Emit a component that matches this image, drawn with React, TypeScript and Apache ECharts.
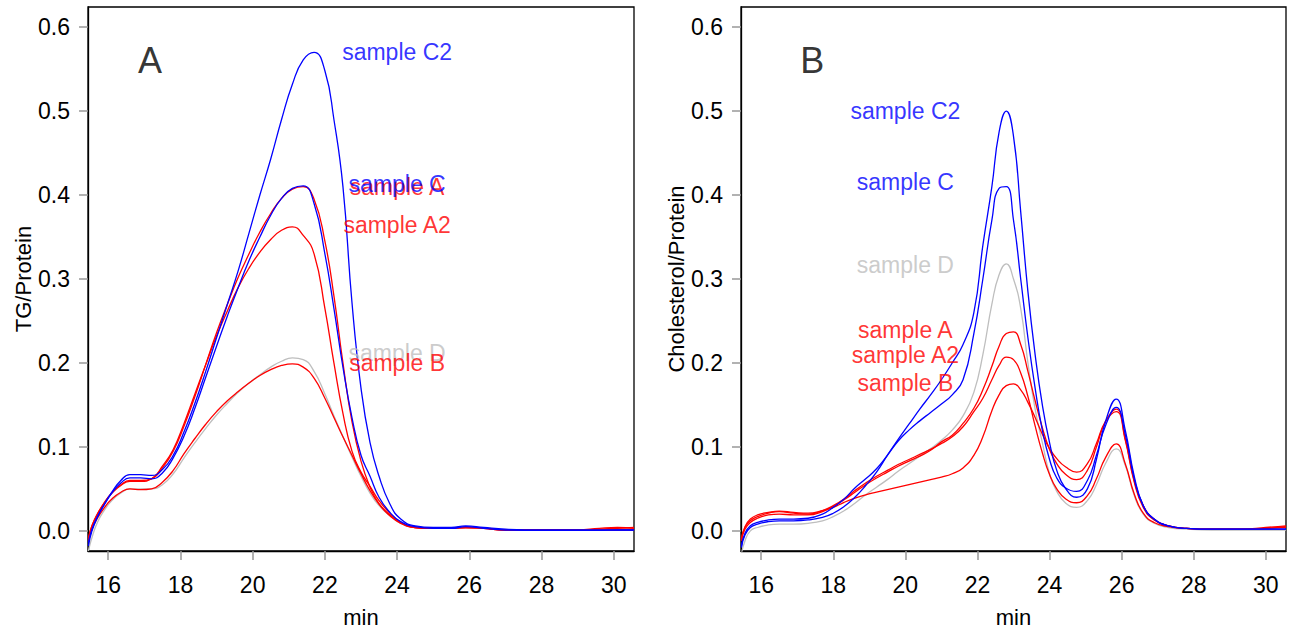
import { useEffect, useRef } from "react";
import * as echarts from "echarts";

// ---------- Panel A: TG/Protein ----------
const tgX = [15.45, 15.55, 15.7, 15.9, 16.1, 16.35, 16.6, 16.9, 17.2, 17.5, 17.8, 18.1, 18.4, 18.7, 19.0, 19.3, 19.6, 19.9, 20.2, 20.5, 20.8, 21.1, 21.4, 21.7, 22.0, 22.25, 22.5, 22.75, 23.0, 23.25, 23.5, 23.8, 24.1, 24.5, 25.0, 25.5, 25.9, 26.4, 27.0, 28.0, 29.0, 29.6, 30.1, 30.56];
const tgD = [-0.024, -0.008, 0.01, 0.025, 0.036, 0.045, 0.05, 0.05, 0.05, 0.055, 0.068, 0.087, 0.105, 0.122, 0.138, 0.152, 0.165, 0.176, 0.186, 0.195, 0.202, 0.206, 0.204, 0.19, 0.163, 0.137, 0.112, 0.088, 0.065, 0.045, 0.03, 0.018, 0.009, 0.004, 0.003, 0.003, 0.004, 0.003, 0.001, 0.0005, 0.0005, 0.0005, 0.0005, 0.0005];
const tgA = [-0.01, 0.006, 0.02, 0.034, 0.045, 0.055, 0.06, 0.06, 0.062, 0.075, 0.095, 0.125, 0.16, 0.198, 0.236, 0.27, 0.302, 0.33, 0.356, 0.378, 0.396, 0.407, 0.41, 0.395, 0.345, 0.28, 0.2, 0.13, 0.083, 0.052, 0.032, 0.018, 0.009, 0.004, 0.003, 0.003, 0.004, 0.003, 0.001, 0.001, 0.001, 0.002, 0.003, 0.004];
const tgA2 = [-0.008, 0.006, 0.02, 0.034, 0.045, 0.054, 0.059, 0.059, 0.062, 0.077, 0.097, 0.128, 0.163, 0.198, 0.232, 0.262, 0.29, 0.313, 0.332, 0.347, 0.358, 0.362, 0.352, 0.33, 0.265, 0.2, 0.14, 0.095, 0.07, 0.053, 0.036, 0.021, 0.01, 0.004, 0.003, 0.003, 0.004, 0.003, 0.001, 0.001, 0.001, 0.003, 0.004, 0.003];
const tgB = [-0.012, 0.002, 0.015, 0.028, 0.038, 0.046, 0.05, 0.049, 0.05, 0.058, 0.072, 0.092, 0.11, 0.127, 0.142, 0.155, 0.166, 0.176, 0.185, 0.192, 0.197, 0.199, 0.195, 0.182, 0.158, 0.135, 0.112, 0.09, 0.068, 0.048, 0.032, 0.019, 0.01, 0.004, 0.003, 0.003, 0.004, 0.003, 0.001, 0.001, 0.001, 0.001, 0.001, 0.001];
const tgC = [-0.014, 0.002, 0.017, 0.032, 0.045, 0.057, 0.063, 0.063, 0.062, 0.069, 0.087, 0.113, 0.146, 0.183, 0.22, 0.256, 0.29, 0.322, 0.35, 0.376, 0.396, 0.408, 0.411, 0.39, 0.33, 0.265, 0.195, 0.135, 0.09, 0.065, 0.04, 0.022, 0.011, 0.005, 0.003, 0.003, 0.005, 0.003, 0.001, 0.0005, 0.0005, 0.0005, 0.001, 0.001];
const tgC2 = [-0.018, 0.0, 0.016, 0.032, 0.046, 0.06, 0.067, 0.067, 0.066, 0.073, 0.09, 0.118, 0.152, 0.19, 0.23, 0.27, 0.31, 0.355, 0.4, 0.443, 0.49, 0.532, 0.561, 0.57, 0.548, 0.49, 0.41, 0.272, 0.17, 0.105, 0.065, 0.032, 0.014, 0.006, 0.004, 0.004, 0.006, 0.004, 0.002, 0.001, 0.001, 0.001, 0.001, 0.001];
const tgLabelX = 24;
const tgLabelY = [0.2116, 0.41, 0.364, 0.2, 0.413, 0.57];

// ---------- Panel B: Cholesterol/Protein ----------
const chX = [15.45, 15.55, 15.7, 15.9, 16.2, 16.5, 16.9, 17.3, 17.7, 18.0, 18.3, 18.6, 18.9, 19.2, 19.5, 19.8, 20.1, 20.4, 20.7, 21.0, 21.3, 21.6, 21.9, 22.15, 22.4, 22.6, 22.8, 23.0, 23.2, 23.4, 23.6, 23.8, 24.0, 24.2, 24.45, 24.75, 25.05, 25.3, 25.55, 25.85, 26.1, 26.35, 26.6, 26.9, 27.3, 27.8, 28.5, 29.3, 30.0, 30.56];
const chD = [-0.028, -0.012, 0.0, 0.004, 0.007, 0.008, 0.008, 0.009, 0.012, 0.017, 0.024, 0.033, 0.043, 0.052, 0.061, 0.071, 0.08, 0.089, 0.098, 0.108, 0.12, 0.137, 0.165, 0.21, 0.27, 0.305, 0.318, 0.3, 0.265, 0.2, 0.145, 0.105, 0.068, 0.047, 0.033, 0.028, 0.036, 0.055, 0.08, 0.0977, 0.078, 0.042, 0.02, 0.009, 0.004, 0.002, 0.001, 0.001, 0.001, 0.001];
const chA = [-0.012, 0.002, 0.01, 0.015, 0.019, 0.02, 0.019, 0.019, 0.023, 0.029, 0.037, 0.046, 0.055, 0.063, 0.07, 0.077, 0.083, 0.089, 0.096, 0.106, 0.114, 0.128, 0.146, 0.168, 0.196, 0.22, 0.235, 0.237, 0.222, 0.19, 0.155, 0.123, 0.097, 0.08, 0.067, 0.061, 0.072, 0.1, 0.13, 0.145, 0.11, 0.06, 0.03, 0.014, 0.006, 0.003, 0.002, 0.002, 0.003, 0.005];
const chA2 = [-0.01, 0.004, 0.012, 0.017, 0.021, 0.023, 0.021, 0.02, 0.024, 0.03, 0.038, 0.048, 0.057, 0.065, 0.072, 0.079, 0.085, 0.091, 0.097, 0.104, 0.112, 0.124, 0.142, 0.158, 0.18, 0.197, 0.207, 0.204, 0.188, 0.16, 0.125, 0.093, 0.067, 0.05, 0.038, 0.0335, 0.042, 0.062, 0.087, 0.1035, 0.08, 0.044, 0.021, 0.01, 0.005, 0.003, 0.002, 0.002, 0.004, 0.006];
const chB = [-0.01, 0.005, 0.014, 0.019, 0.022, 0.0235, 0.022, 0.021, 0.024, 0.028, 0.034, 0.039, 0.043, 0.046, 0.049, 0.052, 0.055, 0.058, 0.061, 0.064, 0.068, 0.075, 0.09, 0.112, 0.143, 0.162, 0.173, 0.175, 0.168, 0.153, 0.135, 0.115, 0.098, 0.086, 0.076, 0.07, 0.08, 0.104, 0.13, 0.142, 0.108, 0.058, 0.028, 0.013, 0.006, 0.003, 0.002, 0.002, 0.003, 0.004];
const chC = [-0.018, -0.003, 0.006, 0.01, 0.013, 0.014, 0.014, 0.015, 0.02, 0.028, 0.038, 0.051, 0.062, 0.074, 0.09, 0.107, 0.12, 0.131, 0.141, 0.151, 0.162, 0.18, 0.235, 0.3, 0.37, 0.408, 0.41, 0.37, 0.3, 0.23, 0.17, 0.12, 0.085, 0.063, 0.051, 0.047, 0.06, 0.09, 0.125, 0.147, 0.115, 0.062, 0.03, 0.014, 0.006, 0.003, 0.002, 0.002, 0.002, 0.002];
const chC2 = [-0.02, -0.005, 0.004, 0.008, 0.011, 0.012, 0.012, 0.013, 0.016, 0.021, 0.029, 0.04, 0.054, 0.07, 0.09, 0.109, 0.127, 0.145, 0.162, 0.18, 0.2, 0.222, 0.26, 0.34, 0.41, 0.475, 0.5, 0.47, 0.38, 0.285, 0.21, 0.15, 0.105, 0.072, 0.05, 0.04, 0.05, 0.085, 0.13, 0.157, 0.12, 0.065, 0.03, 0.014, 0.006, 0.003, 0.002, 0.002, 0.002, 0.002];
const chLabelX = 20;
const chLabelY = [0.3165, 0.239, 0.209, 0.176, 0.415, 0.5006];

// ---------- shared ----------
const sampleNames = ["sample D", "sample A", "sample A2", "sample B", "sample C", "sample C2"];
const xTicks = [16, 18, 20, 22, 24, 26, 28, 30];
const yTicks = [0, 0.1, 0.2, 0.3, 0.4, 0.5, 0.6];
const panelLetters = ["A", "B"];
const panelLetterPos = [[17.16, 0.56], [17.42, 0.56]];

const FONT = "'Liberation Sans', Arial, Helvetica, sans-serif";
const BLUE = "#0000FF";
const RED = "#FF0000";
const GRAY = "#BEBEBE";
const sampleColors = [GRAY, RED, RED, RED, BLUE, BLUE];

function zip(xs: number[], ys: number[]) {
  return xs.map((x, i) => [x, ys[i]]);
}

export default function App() {
  const ref = useRef<HTMLDivElement>(null);
  useEffect(() => {
    document.body.style.margin = "0";
    const chart = echarts.init(ref.current!, null, { renderer: "svg" });

    const panels = [
      { x: tgX, ys: [tgD, tgA, tgA2, tgB, tgC, tgC2], lx: tgLabelX, ly: tgLabelY, title: "TG/Protein" },
      { x: chX, ys: [chD, chA, chA2, chB, chC, chC2], lx: chLabelX, ly: chLabelY, title: "Cholesterol/Protein" },
    ];

    const grids = [
      { left: 88, top: 7, width: 546, height: 544 },
      { left: 741, top: 7, width: 545, height: 544 },
    ].map((g) => ({
      ...g,
      show: true,
      containLabel: false,
      outerBoundsMode: "none",
      borderColor: "#000",
      borderWidth: 1.3,
      backgroundColor: "transparent",
    }));

    const tickStyle = { color: "#999999", width: 1.5 };
    const lineStyle = { color: "#000", width: 1.3 };

    const xAxes = panels.map((_, i) => ({
      type: "value",
      gridIndex: i,
      position: "bottom",
      min: 15.44,
      max: 30.56,
      axisLine: { show: true, onZero: false, lineStyle },
      splitLine: { show: false },
      axisTick: { show: true, inside: false, length: 9, lineStyle: tickStyle, customValues: xTicks },
      axisLabel: { customValues: xTicks, fontSize: 23, color: "#000", fontFamily: FONT, margin: 22 },
      name: "min",
      nameLocation: "middle",
      nameGap: 55,
      nameTextStyle: { fontSize: 22, color: "#000", fontFamily: FONT },
    }));

    const yAxes = panels.map((p, i) => ({
      type: "value",
      gridIndex: i,
      position: "left",
      min: -0.024,
      max: 0.624,
      axisLine: { show: true, onZero: false, lineStyle },
      splitLine: { show: false },
      axisTick: { show: true, inside: false, length: 9, lineStyle: tickStyle, customValues: yTicks },
      axisLabel: {
        customValues: yTicks,
        fontSize: 23,
        color: "#000",
        fontFamily: FONT,
        margin: 18,
        formatter: (v: number) => v.toFixed(1),
      },
      name: p.title,
      nameLocation: "middle",
      nameGap: 54,
      nameTextStyle: { fontSize: 22, color: "#000", fontFamily: FONT },
    }));

    const series: any[] = [];
    panels.forEach((p, i) => {
      p.ys.forEach((ys, k) => {
        series.push({
          type: "line",
          name: sampleNames[k] + (i === 0 ? " TG" : " Chol"),
          xAxisIndex: i,
          yAxisIndex: i,
          data: zip(p.x, ys),
          showSymbol: false,
          symbol: "none",
          smooth: 0.5,
          clip: true,
          silent: true,
          lineStyle: { color: sampleColors[k], width: 1.3 },
          z: 2,
        });
      });
      series.push({
        type: "scatter",
        xAxisIndex: i,
        yAxisIndex: i,
        symbolSize: 0,
        silent: true,
        z: 5,
        data: sampleNames.map((n, k) => ({
          value: [p.lx, p.ly[k]],
          name: n,
          label: { color: sampleColors[k] },
        })),
        label: {
          show: true,
          position: "inside",
          formatter: "{b}",
          fontSize: 23,
          fontFamily: FONT,
          align: "center",
          verticalAlign: "middle",
        },
      });
      series.push({
        type: "scatter",
        xAxisIndex: i,
        yAxisIndex: i,
        symbolSize: 0,
        silent: true,
        z: 5,
        data: [{ value: panelLetterPos[i], name: panelLetters[i] }],
        label: {
          show: true,
          position: "inside",
          formatter: "{b}",
          fontSize: 36,
          fontFamily: FONT,
          color: "#000",
          align: "center",
          verticalAlign: "middle",
        },
      });
    });

    chart.setOption({
      animation: false,
      backgroundColor: "#fff",
      grid: grids,
      xAxis: xAxes,
      yAxis: yAxes,
      series,
    });
    return () => chart.dispose();
  }, []);
  return (
    <div
      ref={ref}
      style={{ position: "fixed", left: 0, top: 0, width: 1291, height: 632, background: "#fff" }}
    />
  );
}
